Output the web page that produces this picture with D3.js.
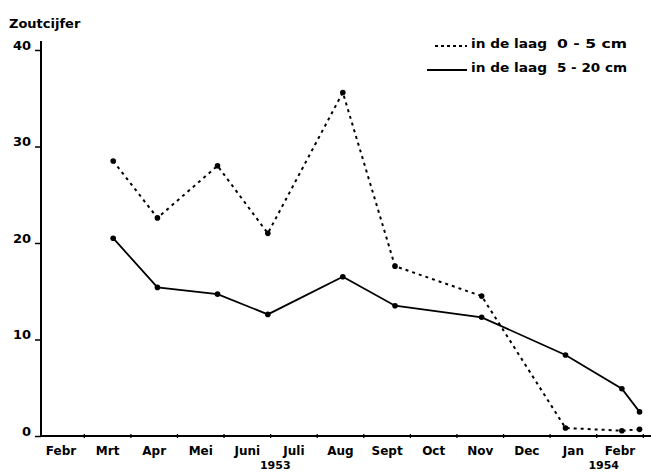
<!DOCTYPE html>
<html><head><meta charset="utf-8">
<script src="https://cdn.jsdelivr.net/npm/d3@7/dist/d3.min.js"></script>
<style>
html,body{margin:0;padding:0;background:#fff;}
svg text{font-family:"DejaVu Sans",sans-serif;fill:#000;}
</style></head>
<body><svg id="c" width="651" height="474"></svg>
<script>
// Month labels (index 0 = Febr 1953 ... 12 = Febr 1954)
const months = ["Febr","Mrt","Apr","Mei","Juni","Juli","Aug","Sept","Oct","Nov","Dec","Jan","Febr"];
const years = [{label:"1953", pos:4.6},{label:"1954", pos:11.65}];
// Sample dates, as fractional month index
const sampleDates = [1.12, 2.07, 3.36, 4.44, 6.05, 7.17, 9.03, 10.83, 12.04, 12.42];
// Salt figures ("Zoutcijfer")
const layer0_5  = [28.5, 22.6, 28.0, 21.0, 35.6, 17.6, 14.5, 0.83, 0.55, 0.69];
const layer5_20 = [20.5, 15.4, 14.7, 12.6, 16.5, 13.5, 12.3, 8.4, 4.9, 2.5];
const yTicks = [0, 10, 20, 30, 40];
const legendLabels = [["in de laag","0 - 5 cm"],["in de laag","5 - 20 cm"]];

const svg = d3.select("#c");
const x = d3.scaleLinear().domain([0, 12]).range([61, 620]);
const y = d3.scaleLinear().domain([0, 40]).range([436, 50]);
const axisX0 = 41;

// Y axis
const yAxis = d3.axisLeft(y).tickValues(yTicks).tickSize(6).tickPadding(4).tickFormat(d3.format("d"));
const gy = svg.append("g").attr("transform", `translate(${axisX0},0)`).call(yAxis);
gy.select(".domain").remove();
gy.selectAll(".tick line").attr("stroke","#000").attr("stroke-width",1.5);
gy.selectAll(".tick text").attr("font-size",13).attr("font-weight","bold").attr("dy","-0.05em");
svg.append("line").attr("x1",axisX0).attr("x2",axisX0).attr("y1",41).attr("y2",437)
  .attr("stroke","#000").attr("stroke-width",2);

// X axis
svg.append("line").attr("x1",axisX0).attr("x2",651).attr("y1",y(0)).attr("y2",y(0))
  .attr("stroke","#000").attr("stroke-width",2);
const bounds = d3.range(0, 13).map(i => i + 0.5);
svg.append("g").selectAll("line").data(bounds).join("line")
  .attr("x1", d => x(d)).attr("x2", d => x(d))
  .attr("y1", y(0) - 2).attr("y2", y(0) + 2)
  .attr("stroke","#000").attr("stroke-width",1.3);
svg.append("g").selectAll("text").data(months).join("text")
  .attr("x", (d,i) => x(i)).attr("y", 455)
  .attr("text-anchor","middle").attr("font-size",12).attr("font-weight","bold")
  .text(d => d);
svg.append("g").selectAll("text").data(years).join("text")
  .attr("x", d => x(d.pos)).attr("y", 469)
  .attr("text-anchor","middle").attr("font-size",11).attr("font-weight","bold")
  .text(d => d.label);

// Y title
svg.append("text").attr("x", 9).attr("y", 28).attr("font-size",13).attr("font-weight","bold")
  .text("Zoutcijfer");

// Series
const line = d3.line().x(d => x(d[0])).y(d => y(d[1]));
const s1 = sampleDates.map((d,i) => [d, layer0_5[i]]);
const s2 = sampleDates.map((d,i) => [d, layer5_20[i]]);
svg.append("path").attr("d", line(s1)).attr("fill","none").attr("stroke","#000")
  .attr("stroke-width",2).attr("stroke-dasharray","3,4");
svg.append("path").attr("d", line(s2)).attr("fill","none").attr("stroke","#000")
  .attr("stroke-width",1.8);
svg.append("g").selectAll("circle").data(s1.concat(s2)).join("circle")
  .attr("cx", d => x(d[0])).attr("cy", d => y(d[1])).attr("r", 2.8).attr("fill","#000");

// Legend
const lg = svg.append("g");
lg.append("line").attr("x1",435).attr("x2",467).attr("y1",46).attr("y2",46)
  .attr("stroke","#000").attr("stroke-width",2).attr("stroke-dasharray","3,3");
lg.append("line").attr("x1",427).attr("x2",467).attr("y1",70).attr("y2",70)
  .attr("stroke","#000").attr("stroke-width",1.8);
legendLabels.forEach((l, i) => {
  const yy = 48 + i * 24;
  lg.append("text").attr("x",471).attr("y",yy).attr("font-size",12).attr("font-weight","bold")
    .attr("textLength",76).attr("lengthAdjust","spacingAndGlyphs").text(l[0]);
  lg.append("text").attr("x",557).attr("y",yy).attr("font-size",13).attr("font-weight","bold")
    .attr("textLength",70).attr("lengthAdjust","spacingAndGlyphs")
    .attr("xml:space","preserve").text(l[1]);
});
</script></body></html>
